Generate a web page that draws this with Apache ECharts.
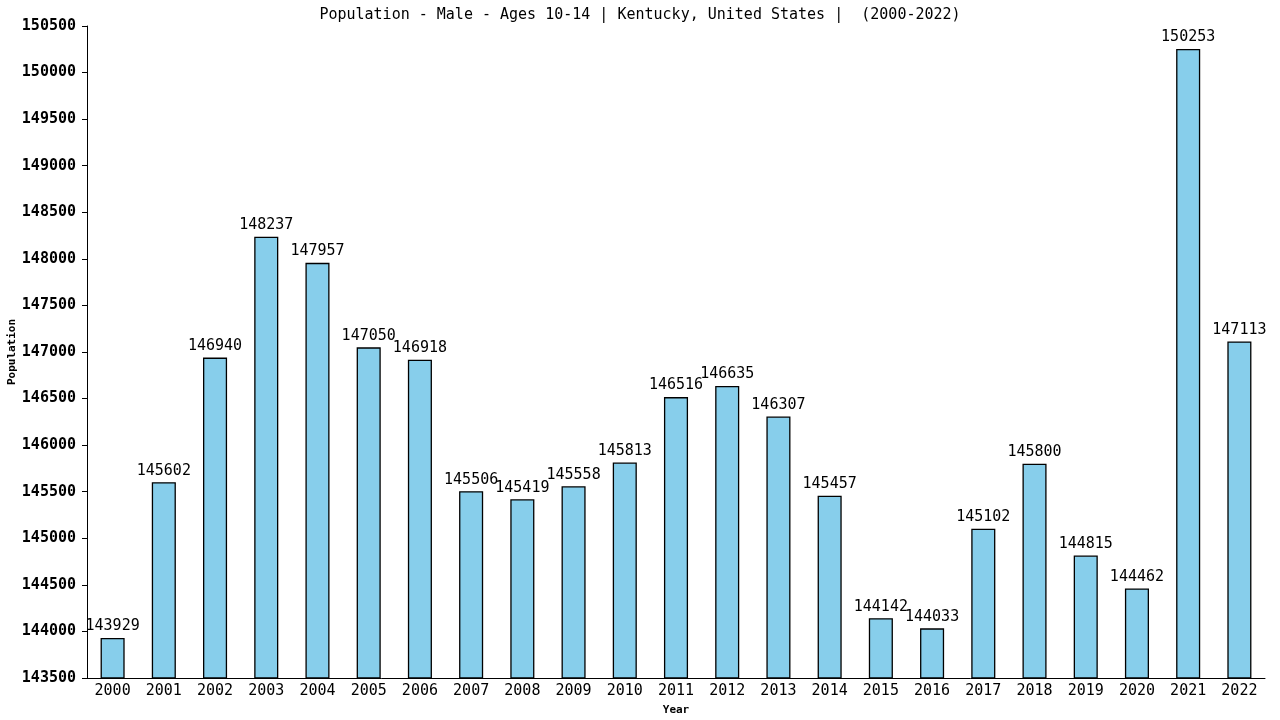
<!DOCTYPE html>
<html><head><meta charset="utf-8">
<script src="https://cdn.jsdelivr.net/npm/echarts@6/dist/echarts.min.js"></script>
<style>html,body{margin:0;padding:0;background:#fff}#c{width:1280px;height:720px}</style>
</head><body><div id="c"></div>
<script>
const years = ['2000','2001','2002','2003','2004','2005','2006','2007','2008','2009','2010','2011','2012','2013','2014','2015','2016','2017','2018','2019','2020','2021','2022'];
const population = [143929,145602,146940,148237,147957,147050,146918,145506,145419,145558,145813,146516,146635,146307,145457,144142,144033,145102,145800,144815,144462,150253,147113];
const yTicks = {min:143500, max:150500, interval:500};
const font = 'DejaVu Sans Mono';
const chart = echarts.init(document.getElementById('c'));
chart.setOption({
  animation:false,
  title:{text:'Population - Male - Ages 10-14 | Kentucky, United States |  (2000-2022)',left:'center',top:3,
    textStyle:{fontFamily:font,fontSize:15,fontWeight:'normal',color:'#000'}},
  graphic:[{type:'text',x:12,y:352,rotation:Math.PI/2,
    style:{text:'Population',fontFamily:font,fontSize:11,fontWeight:'bold',fill:'#000',align:'center',verticalAlign:'middle'}}],
  grid:{left:87,right:15,top:26,bottom:42,containLabel:false,outerBoundsMode:'none'},
  xAxis:{type:'category',data:years,name:'Year',nameLocation:'middle',nameGap:27,
    nameTextStyle:{fontFamily:font,fontSize:11,fontWeight:'bold',color:'#000'},
    axisLine:{lineStyle:{color:'#000',width:1}},axisTick:{show:false},
    axisLabel:{fontFamily:font,fontSize:15,color:'#000',margin:6}},
  yAxis:{type:'value',min:yTicks.min,max:yTicks.max,interval:yTicks.interval,
    axisLine:{show:true,lineStyle:{color:'#000',width:1}},axisTick:{show:true,length:5,lineStyle:{color:'#000'}},
    splitLine:{show:false},
    axisLabel:{fontFamily:font,fontSize:15,fontWeight:'bold',color:'#000',margin:11,formatter:v=>String(v)}},
  series:[{type:'bar',data:population,barWidth:'47%',
    itemStyle:{color:'#87CEEB',borderColor:'#000',borderWidth:1.3},
    label:{show:true,position:'top',distance:4,fontFamily:font,fontSize:15,color:'#000'}}]
});
</script></body></html>
